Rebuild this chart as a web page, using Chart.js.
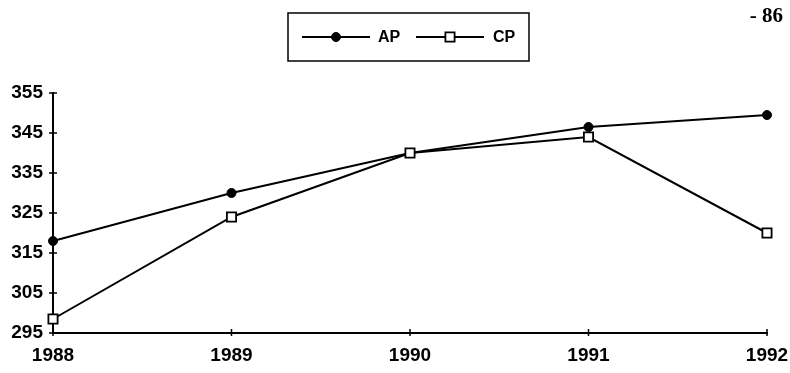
<!DOCTYPE html>
<html>
<head>
<meta charset="utf-8">
<title>AP / CP 1988-1992</title>
<script src="https://cdn.jsdelivr.net/npm/chart.js@4"></script>
<style>
  html, body { margin: 0; padding: 0; background: #fff; }
  #wrap { position: relative; width: 790px; height: 373px; }
</style>
</head>
<body>
<div id="wrap"><canvas id="chart"></canvas></div>
<script>
// Years on the horizontal axis
const years = ['1988', '1989', '1990', '1991', '1992'];

// Series values
const apValues = [318, 330, 340, 346.5, 349.5];
const cpValues = [298.5, 324, 340, 344, 320];

// Vertical axis range
const yMin = 295;
const yMax = 355;
const yStep = 10;

const pageNumber = '- 86';
const ink = '#000';
const labelFont = { family: "'Liberation Sans', Arial, sans-serif", size: 19, weight: 'bold' };

// Small cross-shaped tick marks on both axes
const crossTicks = {
  id: 'crossTicks',
  afterDatasetsDraw(chart) {
    const { ctx, scales: { x, y } } = chart;
    ctx.save();
    ctx.strokeStyle = ink;
    ctx.lineWidth = 1.5;
    ctx.beginPath();
    for (let v = yMin; v <= yMax; v += yStep) {
      const py = y.getPixelForValue(v);
      ctx.moveTo(x.left - 4, py);
      ctx.lineTo(x.left + 4, py);
    }
    years.forEach((yr, i) => {
      const px = x.getPixelForValue(i);
      ctx.moveTo(px, y.bottom - 4);
      ctx.lineTo(px, y.bottom + 3);
    });
    ctx.stroke();
    ctx.restore();
  }
};

// Boxed legend on top plus the page number
const boxLegend = {
  id: 'boxLegend',
  afterDraw(chart) {
    const { ctx } = chart;
    ctx.save();
    ctx.strokeStyle = ink;
    ctx.lineWidth = 1.5;
    ctx.strokeRect(288, 13, 241, 48);

    const cy = 37;
    const items = [
      { ds: chart.data.datasets[0], x0: 302, x1: 370, tx: 378 },
      { ds: chart.data.datasets[1], x0: 416, x1: 484, tx: 493 }
    ];
    items.forEach(it => {
      ctx.lineWidth = 2;
      ctx.strokeStyle = ink;
      ctx.beginPath();
      ctx.moveTo(it.x0, cy);
      ctx.lineTo(it.x1, cy);
      ctx.stroke();
      const mx = (it.x0 + it.x1) / 2;
      ctx.fillStyle = it.ds.pointBackgroundColor;
      ctx.lineWidth = it.ds.pointBorderWidth;
      Chart.helpers.drawPoint(ctx, {
        pointStyle: it.ds.pointStyle,
        radius: it.ds.pointRadius,
        borderWidth: it.ds.pointBorderWidth
      }, mx, cy);
      ctx.fillStyle = ink;
      ctx.font = "bold 16px 'Liberation Sans', Arial, sans-serif";
      ctx.textBaseline = 'middle';
      ctx.textAlign = 'left';
      ctx.fillText(it.ds.label, it.tx, cy + 1);
    });

    ctx.font = "bold 21px 'Liberation Serif', 'Times New Roman', serif";
    ctx.textAlign = 'right';
    ctx.textBaseline = 'alphabetic';
    ctx.fillText(pageNumber, 783, 22);
    ctx.restore();
  }
};

new Chart(document.getElementById('chart'), {
  type: 'line',
  data: {
    labels: years,
    datasets: [
      {
        label: 'AP',
        data: apValues,
        order: 2,
        borderColor: ink,
        borderWidth: 2,
        pointStyle: 'circle',
        pointRadius: 4.5,
        pointBackgroundColor: ink,
        pointBorderColor: ink,
        pointBorderWidth: 1,
        tension: 0
      },
      {
        label: 'CP',
        data: cpValues,
        order: 1,
        borderColor: ink,
        borderWidth: 2,
        pointStyle: 'rect',
        pointRadius: 6.5,
        pointBackgroundColor: '#fff',
        pointBorderColor: ink,
        pointBorderWidth: 1.8,
        tension: 0
      }
    ]
  },
  options: {
    responsive: true,
    maintainAspectRatio: false,
    animation: false,
    layout: { padding: { top: 93, right: 23, left: 0, bottom: 0 } },
    plugins: {
      legend: { display: false },
      title: { display: false },
      tooltip: { enabled: false }
    },
    scales: {
      x: {
        offset: false,
        grid: { display: false, drawTicks: false },
        border: { display: true, color: ink, width: 2 },
        ticks: { color: ink, font: labelFont, padding: 11, maxRotation: 0 },
        afterFit(scale) {
          scale.height = 40;
          scale.paddingLeft = 0;
          scale.paddingRight = 0;
        }
      },
      y: {
        min: yMin,
        max: yMax,
        grid: { display: false, drawTicks: false },
        border: { display: true, color: ink, width: 2 },
        ticks: { stepSize: yStep, color: ink, font: labelFont, padding: 10 },
        afterFit(scale) { scale.width = 53; }
      }
    }
  },
  plugins: [crossTicks, boxLegend]
});
</script>
</body>
</html>
